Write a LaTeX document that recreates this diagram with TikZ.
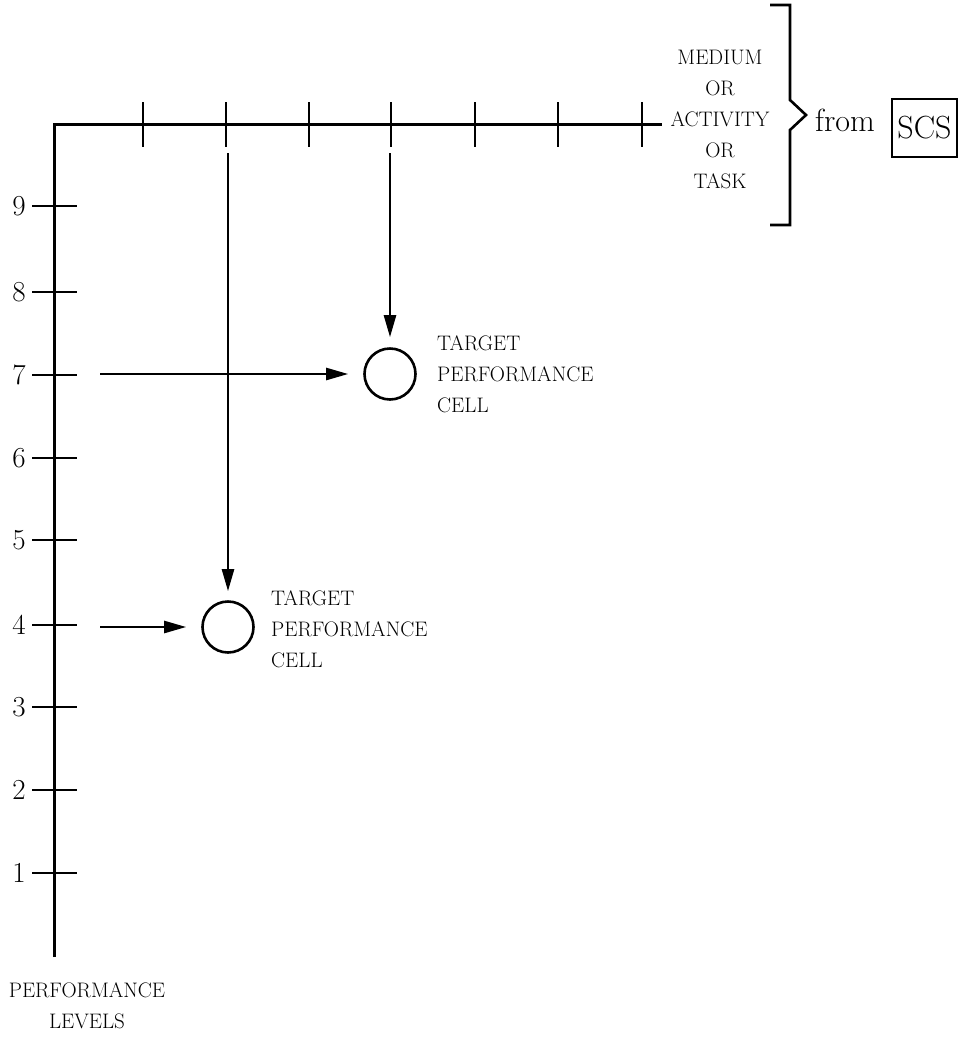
\documentclass[tikz,border=0pt]{standalone}
\usetikzlibrary{arrows.meta}
\begin{document}
\begin{tikzpicture}[x=1pt,y=-1pt,
  axis/.style={line width=3pt},
  tickmark/.style={line width=2.6pt},
  arr/.style={line width=2.4pt,-{Triangle[length=22pt,width=12pt]}},
  cell/.style={circle,draw,line width=2.6pt,minimum size=51pt,inner sep=0pt},
  caps/.style={font=\fontsize{21}{31}\selectfont,inner sep=0pt},
  num/.style={font=\fontsize{29}{29}\selectfont,inner sep=0pt,anchor=east},
  big/.style={font=\fontsize{32}{32}\selectfont}]
\useasboundingbox (0,0) rectangle (967,1037);

% axes
\coordinate (org) at (54,124);
\coordinate (ybot) at (54,957);
\coordinate (xend) at (662,124);
\draw[axis] (ybot) -- (org) -- (xend);

% vertical ticks and numbers
\foreach \n/\y in {9/206,8/292,7/375,6/458,5/540,4/625,3/707,2/790,1/873}{
  \draw[tickmark] (32,\y) -- (77,\y);
  \node[num] (n\n) at (26,\y) {\n};
}
% horizontal ticks
\foreach \x in {143,226,309,391,475,558,642}{
  \draw[tickmark] (\x,102) -- (\x,147);
}

% target cells
\node[cell] (c7) at (390,374) {};
\node[cell] (c4) at (228,627) {};

\coordinate (s7v) at (390,153);
\coordinate (s4v) at (228,153);
\coordinate (s7h) at (100,374);
\coordinate (s4h) at (100,627);

\draw[arr] (s7v) -- ([yshift=10pt]c7.north);
\draw[arr] (s4v) -- ([yshift=9pt]c4.north);
\draw[arr] (s7h) -- ([xshift=-15pt]c7.west);
\draw[arr] (s4h) -- ([xshift=-15pt]c4.west);

% labels
\node[caps,align=left,anchor=west] (t7) at (437,374) {TARGET\\PERFORMANCE\\CELL};
\node[caps,align=left,anchor=west] (t4) at (271,629) {TARGET\\PERFORMANCE\\CELL};
\node[caps,align=center] (pl) at (87,1006) {PERFORMANCE\\LEVELS};
\node[caps,align=center] (med) at (720,119) {MEDIUM\\OR\\ACTIVITY\\OR\\TASK};

% brace
\draw[line width=2.6pt,line join=miter] (770,5) -- (790,5) -- (790,100) -- (806,115) -- (790,130) -- (790,225) -- (770,225);

\node[big,anchor=base west,inner sep=0pt] (from) at (815,131) {from};
\node[draw,line width=2.4pt,minimum width=65pt,minimum height=58pt,inner sep=0pt,big] (scs) at (924.5,128) {SCS};
\end{tikzpicture}
\end{document}
